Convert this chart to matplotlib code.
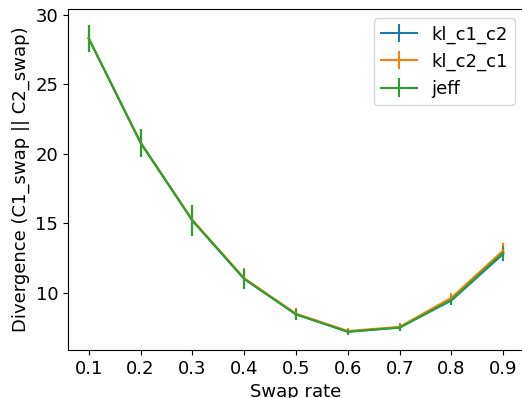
import matplotlib
matplotlib.use('Agg')
import matplotlib.pyplot as plt

swap_rate = [0.1, 0.2, 0.3, 0.4, 0.5, 0.6, 0.7, 0.8, 0.9]

kl_c1_c2 = [28.3, 20.8, 15.2, 11.0, 8.45, 7.2, 7.5, 9.45, 12.8]
kl_c1_c2_err = [1.0, 1.0, 1.1, 0.7, 0.4, 0.2, 0.25, 0.3, 0.5]

kl_c2_c1 = [28.3, 20.8, 15.25, 11.05, 8.5, 7.25, 7.55, 9.65, 13.05]
kl_c2_c1_err = [1.0, 1.0, 1.1, 0.7, 0.4, 0.2, 0.25, 0.3, 0.5]

jeff = [28.3, 20.8, 15.2, 11.0, 8.45, 7.2, 7.5, 9.5, 12.9]
jeff_err = [1.0, 1.0, 1.1, 0.7, 0.4, 0.2, 0.25, 0.3, 0.5]

plt.rcParams['font.size'] = 13
fig = plt.figure(figsize=(5.22, 3.98), dpi=100)
# axes run a little past the right edge, as in the original crop
ax = fig.add_axes([68 / 522, 1 - 350 / 398, 456 / 522, 341 / 398])

ax.errorbar(swap_rate, kl_c1_c2, yerr=kl_c1_c2_err, label='kl_c1_c2')
ax.errorbar(swap_rate, kl_c2_c1, yerr=kl_c2_c1_err, label='kl_c2_c1')
ax.errorbar(swap_rate, jeff, yerr=jeff_err, label='jeff')

ax.set_xticks(swap_rate)
ax.set_xlabel('Swap rate')
ax.set_ylabel('Divergence (C1_swap || C2_swap)')
ax.legend(loc='upper right')

fig.savefig('out.png', dpi=100)
